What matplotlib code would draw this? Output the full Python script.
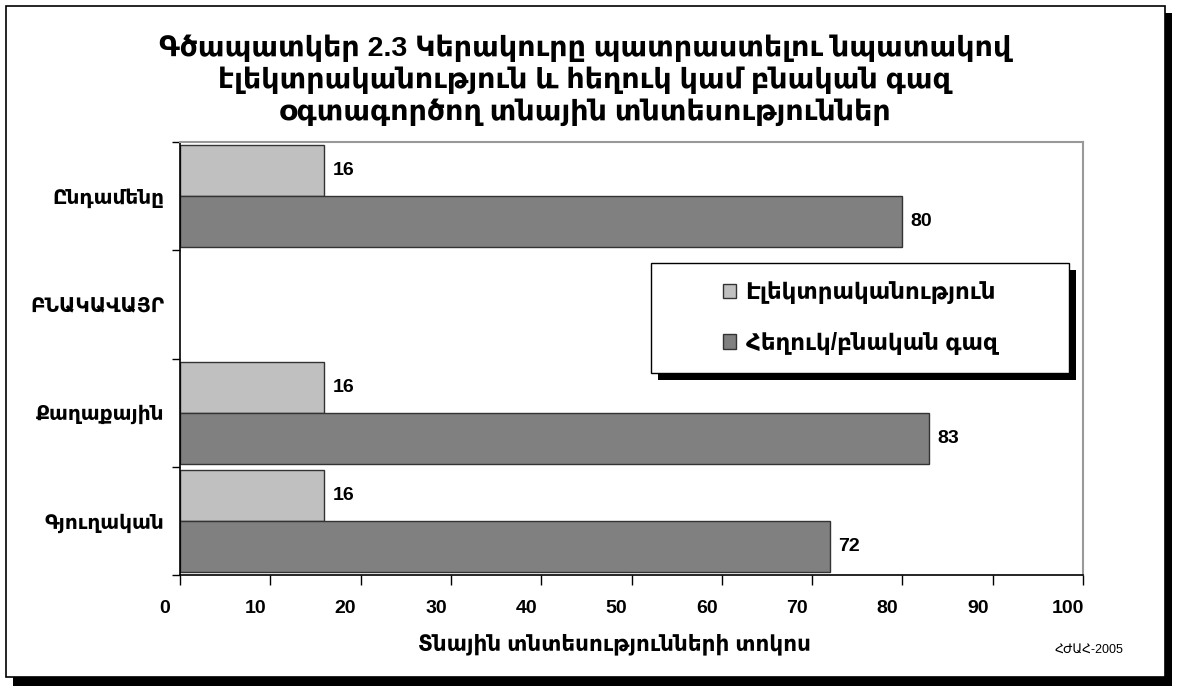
import numpy as np
import matplotlib.pyplot as plt
from matplotlib.patches import Rectangle, Patch
from matplotlib.transforms import ScaledTranslation

plt.rcParams['font.family'] = ['Liberation Sans', 'DejaVu Sans']

# data
categories = ['Ընդամենը', 'ԲՆԱԿԱՎԱՅՐ', 'Քաղաքային', 'Գյուղական']
electricity = [16, np.nan, 16, 16]
gas = [80, np.nan, 83, 72]
series_names = ['Էլեկտրականություն', 'Հեղուկ/բնական գազ']
x_ticks = list(range(0, 101, 10))

title = ('Գծապատկեր 2.3 Կերակուրը պատրաստելու նպատակով\n'
         'էլեկտրականություն և հեղուկ կամ բնական գազ\n'
         'օգտագործող տնային տնտեսություններ')
x_label = 'Տնային տնտեսությունների տոկոս'
source = 'ՀԺԱՀ-2005'

W, H = 1177, 688
light = '#C0C0C0'
dark = '#808080'


def fig_box(x0, y0, x1, y1):
    # pixel box (top-left origin) -> figure fraction rect
    return (x0 / W, 1 - y1 / H), (x1 - x0) / W, (y1 - y0) / H


fig = plt.figure(figsize=(W / 100, H / 100), dpi=100)

# outer frame with shadow
xy, w, h = fig_box(13, 13, 1172, 686)
fig.patches.append(Rectangle(xy, w, h, transform=fig.transFigure,
                             facecolor='black', edgecolor='none', zorder=-2))
xy, w, h = fig_box(6, 6, 1165, 677)
fig.patches.append(Rectangle(xy, w, h, transform=fig.transFigure,
                             facecolor='white', edgecolor='black', lw=1.2, zorder=-1))

ax = fig.add_axes([180 / W, 1 - 575 / H, (1083 - 180) / W, (575 - 142) / H])

y = np.arange(len(categories))
bh = 0.47
b1 = ax.barh(y - bh / 2, electricity, height=bh, color=light,
             edgecolor='#333333', linewidth=1)
b2 = ax.barh(y + bh / 2, gas, height=bh, color=dark,
             edgecolor='#333333', linewidth=1)
for cont, vals in ((b1, electricity), (b2, gas)):
    labels = ['' if np.isnan(v) else f'{v:g}' for v in vals]
    ax.bar_label(cont, labels=labels, padding=6, fontsize=14, fontweight='bold')

ax.set_xlim(0, 100)
ax.set_ylim(len(categories) - 0.5, -0.5)
ax.set_xticks(x_ticks)
ax.set_xticklabels([str(t) for t in x_ticks], fontsize=14, fontweight='bold')
ax.tick_params(axis='x', direction='out', length=7, width=1, pad=11)
# the tick labels sit a little left of their ticks in the original
shift = ScaledTranslation(-15 / 100, 0, fig.dpi_scale_trans)
for lbl in ax.get_xticklabels():
    lbl.set_transform(lbl.get_transform() + shift)

ax.set_yticks(y)
ax.set_yticklabels(categories, fontsize=14.5, fontweight='bold')
ax.set_yticks(np.arange(len(categories) + 1) - 0.5, minor=True)
ax.tick_params(axis='y', which='major', length=0, pad=11)
ax.tick_params(axis='y', which='minor', direction='out', length=6, width=1)

for side in ('top', 'right'):
    ax.spines[side].set_color('#999999')
    ax.spines[side].set_linewidth(1.5)
for side in ('left', 'bottom'):
    ax.spines[side].set_color('black')
    ax.spines[side].set_linewidth(1.2)

ax.set_xlabel(x_label, fontsize=15.5, fontweight='bold')
ax.xaxis.set_label_coords((615 - 180) / 903, (575 - 634) / 433)

fig.text(585 / W, 1 - 80 / H, title, ha='center', va='center',
         fontsize=20.5, fontweight='bold', linespacing=1.2)
fig.text(1089 / W, 1 - 650 / H, source, ha='center', va='center', fontsize=9)

# legend box with hard shadow
xy, w, h = fig_box(658, 270, 1076, 380)
fig.patches.append(Rectangle(xy, w, h, transform=fig.transFigure,
                             facecolor='black', edgecolor='none', zorder=3))
xy, w, h = fig_box(651, 263, 1069, 373)
fig.patches.append(Rectangle(xy, w, h, transform=fig.transFigure,
                             facecolor='white', edgecolor='black', lw=1, zorder=3))
handles = [Patch(facecolor=light, edgecolor='#333333'),
           Patch(facecolor=dark, edgecolor='#333333')]
leg = fig.legend(handles, series_names, loc='center',
                 bbox_to_anchor=((651 + 1069) / 2 / W, 1 - 318 / H),
                 frameon=False, prop={'weight': 'bold', 'size': 16.5},
                 handlelength=0.6, handleheight=0.6, handletextpad=0.4,
                 labelspacing=1.2)
leg.set_zorder(4)

plt.savefig('out.png', dpi=100)
